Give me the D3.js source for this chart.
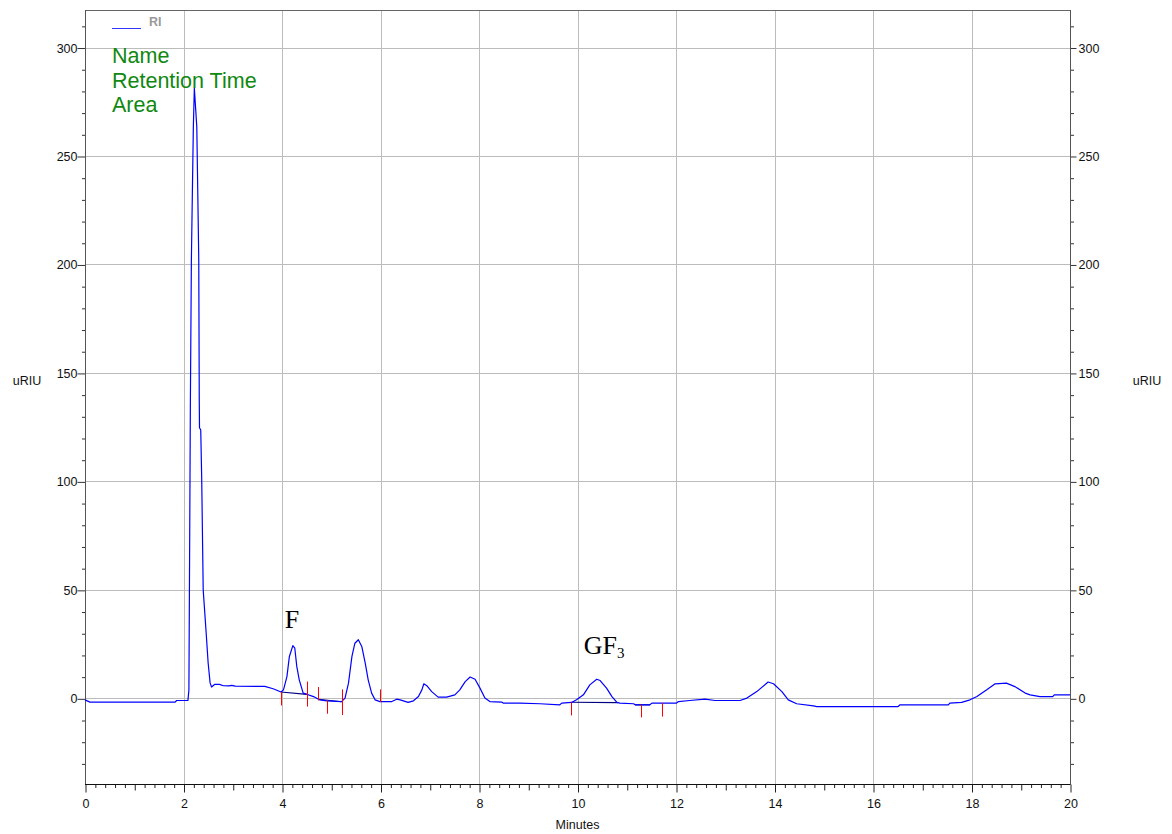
<!DOCTYPE html>
<html>
<head>
<meta charset="utf-8">
<script src="https://cdn.jsdelivr.net/npm/d3@7"></script>
<style>
  body { margin: 0; background: #fff; }
  svg { display: block; }
</style>
</head>
<body>
<svg id="chart" width="1172" height="834"></svg>
<script>
// RI detector trace: [retention time (min), response (uRIU)]
const trace = [
  [0.00, -0.7], [0.10, -1.75], [1.83, -1.75], [1.86, -1.0], [2.09, -1.0],
  [2.11, 3.9], [2.14, 137.6], [2.16, 202], [2.18, 233], [2.20, 263.5],
  [2.22, 281.3], [2.27, 263.5], [2.29, 232.8], [2.31, 202], [2.32, 137.6],
  [2.325, 124.7], [2.35, 123.7], [2.37, 100.7], [2.40, 50], [2.46, 30.2],
  [2.50, 16.4], [2.54, 7.1], [2.57, 5.2], [2.63, 6.4], [2.73, 6.4],
  [2.81, 5.8], [2.92, 5.7], [2.98, 6.0], [3.05, 5.6], [3.65, 5.5],
  [3.82, 4.4], [3.98, 2.9], [4.03, 3.9], [4.10, 10.0], [4.15, 19.3],
  [4.22, 24.3], [4.26, 23.1], [4.30, 14.7], [4.35, 8.5], [4.40, 4.7],
  [4.43, 2.4], [4.50, 1.9], [4.64, 0.8], [4.74, -0.4], [4.77, -0.7],
  [4.91, -1.15], [5.21, -1.5], [5.28, 0.1], [5.35, 7.0], [5.42, 19.3],
  [5.48, 25.4], [5.55, 27.0], [5.62, 23.9], [5.69, 16.2], [5.75, 8.5],
  [5.82, 2.4], [5.89, -0.7], [5.99, -1.5], [6.23, -1.5], [6.33, -0.4],
  [6.40, -0.7], [6.56, -1.9], [6.67, -1.15], [6.77, 0.8], [6.84, 3.9],
  [6.88, 6.7], [6.94, 5.8], [7.04, 3.1], [7.17, 0.55], [7.34, 0.55],
  [7.38, 0.8], [7.51, 1.6], [7.61, 3.9], [7.72, 7.7], [7.82, 9.8],
  [7.92, 8.8], [8.02, 4.7], [8.12, 0.1], [8.22, -1.5], [8.46, -1.75],
  [8.49, -2.2], [8.83, -2.2], [9.24, -2.5], [9.64, -3.0], [9.68, -2.2],
  [9.88, -1.9], [9.98, -0.7], [10.12, 1.6], [10.25, 6.2], [10.39, 8.8],
  [10.46, 8.2], [10.59, 4.7], [10.70, 0.8], [10.80, -1.9], [10.86, -2.2],
  [11.14, -2.5], [11.17, -3.0], [11.47, -3.0], [11.51, -2.2], [12.01, -2.2],
  [12.05, -1.5], [12.28, -1.0], [12.59, -0.4], [12.79, -1.0], [13.30, -1.0],
  [13.44, 0.1], [13.64, 3.1], [13.87, 7.5], [13.98, 6.7], [14.15, 3.1],
  [14.28, -0.7], [14.45, -2.5], [14.79, -3.5], [14.86, -3.8], [16.51, -3.8],
  [16.55, -3.0], [17.53, -3.0], [17.56, -2.2], [17.80, -1.9], [17.97, -0.7],
  [18.11, 0.8], [18.31, 3.9], [18.48, 6.7], [18.71, 7.0], [18.88, 5.4],
  [19.09, 2.4], [19.19, 1.6], [19.39, 0.8], [19.65, 0.8], [19.68, 1.6],
  [20.00, 1.6]
];

// Peak start / end event marks
const markerTimes   = [3.98, 4.51, 4.74, 4.91, 5.21, 5.99, 9.87, 11.29, 11.72];
const markerTops    = [2.9, 7.7, 5.2, -1.0, 4.1, 4.1, -1.9, -3.0, -2.2];
const markerBottoms = [-3.3, -3.8, -1.0, -7.1, -7.7, -1.75, -7.9, -8.8, -8.4];

// Integration baselines: [start time, start value] -> [end time, end value]
const baselineStarts = [[3.98, 2.9], [4.74, -0.4], [9.88, -1.8], [11.17, -3.0]];
const baselineEnds   = [[4.50, 1.8], [5.21, -1.6], [10.82, -2.0], [11.47, -3.0]];

// Named peaks
const peakNames = ["F", "GF"];
const peakSubscripts = ["", "3"];
const peakApexTimes = [4.22, 10.39];
const peakApexValues = [24.3, 8.8];

// Axis ticks
const xMajorTicks = [0, 2, 4, 6, 8, 10, 12, 14, 16, 18, 20];
const yMajorTicks = [0, 50, 100, 150, 200, 250, 300];

const legendLabel = "RI";
const infoLines = ["Name", "Retention Time", "Area"];
const xTitle = "Minutes";
const yTitle = "uRIU";

// ---- layout ----
const svg = d3.select("#chart");
const plotLeft = 85, plotRight = 1070, plotTop = 10, plotBottom = 784;
const x = d3.scaleLinear().domain([0, 20]).range([plotLeft, plotRight]);
const y = d3.scaleLinear().domain([-39.5, 317.3]).range([plotBottom, plotTop]);
const font = "'Liberation Sans', Arial, sans-serif";

// grid
const grid = svg.append("g").attr("stroke", "#bcbcbc").attr("stroke-width", 1);
grid.selectAll("line.v").data(xMajorTicks.filter(d => d > 0 && d < 20)).join("line")
  .attr("class", "v")
  .attr("x1", d => Math.round(x(d)) + 0.5).attr("x2", d => Math.round(x(d)) + 0.5)
  .attr("y1", plotTop).attr("y2", plotBottom);
grid.selectAll("line.h").data(yMajorTicks).join("line")
  .attr("class", "h")
  .attr("x1", plotLeft).attr("x2", plotRight)
  .attr("y1", d => Math.round(y(d)) + 0.5).attr("y2", d => Math.round(y(d)) + 0.5);

// frame top
svg.append("line").attr("x1", plotLeft).attr("x2", plotRight + 0.5)
  .attr("y1", plotTop + 0.5).attr("y2", plotTop + 0.5).attr("stroke", "#666");

function styleAxis(g, color) {
  g.select(".domain").remove();
  g.selectAll(".tick line").attr("stroke", color);
  g.selectAll(".tick text").attr("fill", "#111").style("font-family", font).style("font-size", "12.5px");
}

// y axes (left and right)
const yMinor = d3.range(-30, 311, 10).filter(d => d % 50 !== 0);
[[plotLeft, d3.axisLeft, 8, 0], [plotRight, d3.axisRight, 6, 2]].forEach(([px, axisFn, size, pad]) => {
  const gMinor = svg.append("g").attr("transform", `translate(${px + 0.5},0.5)`)
    .call(axisFn(y).tickValues(yMinor).tickSize(3.5).tickFormat(""));
  styleAxis(gMinor, "#333");
  const gMajor = svg.append("g").attr("transform", `translate(${px + 0.5},0.5)`)
    .call(axisFn(y).tickValues(yMajorTicks).tickSize(size).tickPadding(pad).tickFormat(d3.format("d")));
  styleAxis(gMajor, "#333");
  svg.append("line").attr("x1", px + 0.5).attr("x2", px + 0.5)
    .attr("y1", plotTop).attr("y2", plotBottom + 0.5).attr("stroke", "#555");
});

// x axis
const xMinor = d3.range(0, 20.001, 0.2).map(d => +d.toFixed(1)).filter(d => Math.abs(d - Math.round(d)) > 1e-6);
const xMid = d3.range(1, 20, 2);
const gxMinor = svg.append("g").attr("transform", `translate(0.5,${plotBottom + 0.5})`)
  .call(d3.axisBottom(x).tickValues(xMinor).tickSize(3.5).tickFormat(""));
styleAxis(gxMinor, "#222");
const gxMid = svg.append("g").attr("transform", `translate(0.5,${plotBottom + 0.5})`)
  .call(d3.axisBottom(x).tickValues(xMid).tickSize(6).tickFormat(""));
styleAxis(gxMid, "#222");
const gxMajor = svg.append("g").attr("transform", `translate(0.5,${plotBottom + 0.5})`)
  .call(d3.axisBottom(x).tickValues(xMajorTicks).tickSize(8).tickPadding(7).tickFormat(d3.format("d")));
styleAxis(gxMajor, "#222");
svg.append("line").attr("x1", plotLeft).attr("x2", plotRight + 0.5)
  .attr("y1", plotBottom + 0.5).attr("y2", plotBottom + 0.5).attr("stroke", "#111");

// axis titles
svg.append("text").attr("x", (plotLeft + plotRight) / 2).attr("y", 829).attr("text-anchor", "middle")
  .style("font-family", font).style("font-size", "12.5px").attr("fill", "#111").text(xTitle);
[27, 1147].forEach(cx => {
  svg.append("text").attr("x", cx).attr("y", 385).attr("text-anchor", "middle")
    .style("font-family", font).style("font-size", "12.5px").attr("fill", "#111").text(yTitle);
});

// integration baselines
svg.append("g").selectAll("line").data(baselineStarts).join("line")
  .attr("x1", d => x(d[0])).attr("y1", d => y(d[1]))
  .attr("x2", (d, i) => x(baselineEnds[i][0])).attr("y2", (d, i) => y(baselineEnds[i][1]))
  .attr("stroke", "#000080").attr("stroke-width", 1.1);

// trace
const line = d3.line().x(d => x(d[0])).y(d => y(d[1]));
svg.append("path").datum(trace).attr("d", line)
  .attr("fill", "none").attr("stroke", "#0000ff").attr("stroke-width", 1.2)
  .attr("stroke-linejoin", "round");

// event marks
svg.append("g").selectAll("line").data(markerTimes).join("line")
  .attr("x1", d => Math.round(x(d)) + 0.5).attr("x2", d => Math.round(x(d)) + 0.5)
  .attr("y1", (d, i) => y(markerTops[i])).attr("y2", (d, i) => y(markerBottoms[i]))
  .attr("stroke", "#ff0000").attr("stroke-width", 1);

// legend
svg.append("line").attr("x1", 112).attr("x2", 141).attr("y1", 28.5).attr("y2", 28.5)
  .attr("stroke", "#3333ff").attr("stroke-width", 1);
svg.append("text").attr("x", 149).attr("y", 26).style("font-family", font)
  .style("font-size", "12.5px").style("font-weight", "bold").attr("fill", "#999").text(legendLabel);

// peak info header
svg.append("g").selectAll("text").data(infoLines).join("text")
  .attr("x", 112).attr("y", (d, i) => 63 + i * 24.5)
  .style("font-family", font).style("font-size", "21.5px").attr("fill", "#118811")
  .text(d => d);

// peak name labels
const labelStyle = [{ dx: -8, dy: -18 }, { dx: -13, dy: -25 }];
peakNames.forEach((name, i) => {
  const t = svg.append("text")
    .attr("x", x(peakApexTimes[i]) + labelStyle[i].dx)
    .attr("y", y(peakApexValues[i]) + labelStyle[i].dy)
    .style("font-family", "'Liberation Serif', 'Times New Roman', serif")
    .style("font-size", "26px").attr("fill", "#000");
  t.append("tspan").text(name);
  if (peakSubscripts[i]) {
    t.append("tspan").attr("dy", 3.5).style("font-size", "15px").text(peakSubscripts[i]);
  }
});
</script>
</body>
</html>
